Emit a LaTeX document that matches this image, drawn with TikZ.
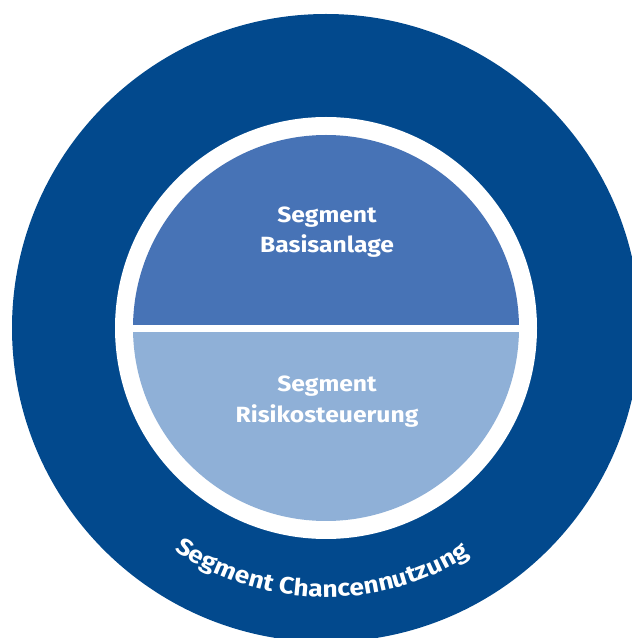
\documentclass[tikz,border=0pt]{standalone}
\usepackage{fontspec}
\setmainfont{Fira Sans}[FakeStretch=1.12]
\usetikzlibrary{decorations.text}
\definecolor{outerblue}{HTML}{02498D}
\definecolor{upperblue}{HTML}{4773B6}
\definecolor{lowerblue}{HTML}{8FB0D7}
\tikzset{
  segtext/.style={text=white, font=\fontsize{22}{26}\selectfont\bfseries, anchor=base, inner sep=0pt},
}
\begin{document}
\begin{tikzpicture}[x=1pt,y=1pt]
\useasboundingbox (0,0) rectangle (632,638);
\clip (0,0) rectangle (632,638);
\coordinate (c) at (326,310);
% outer ring
\fill[outerblue] (c) circle[radius=314];
% white ring
\fill[white] (c) circle[radius=211];
% upper half
\fill[upperblue] (c) ++(193,0) arc[start angle=0, end angle=180, radius=193] -- cycle;
% lower half
\fill[lowerblue] (c) ++(-193,0) arc[start angle=180, end angle=360, radius=193] -- cycle;
% divider
\fill[white] (120,305.5) rectangle (532,312.5);
% texts
\node[segtext] (b1) at (327,415) {Segment};
\node[segtext] (b2) at (327,385) {Basisanlage};
\node[segtext] (r1) at (327,246) {Segment};
\node[segtext] (r2) at (327,215) {Risikosteuerung};
% curved text
\path[decorate, decoration={text along path, text align=center,
  text color=white,
  text={|\fontsize{23.6}{28}\selectfont\bfseries|Segment Chancennutzung}}]
  (c) ++(199:269) arc[start angle=199, end angle=339, radius=269];
\end{tikzpicture}
\end{document}
